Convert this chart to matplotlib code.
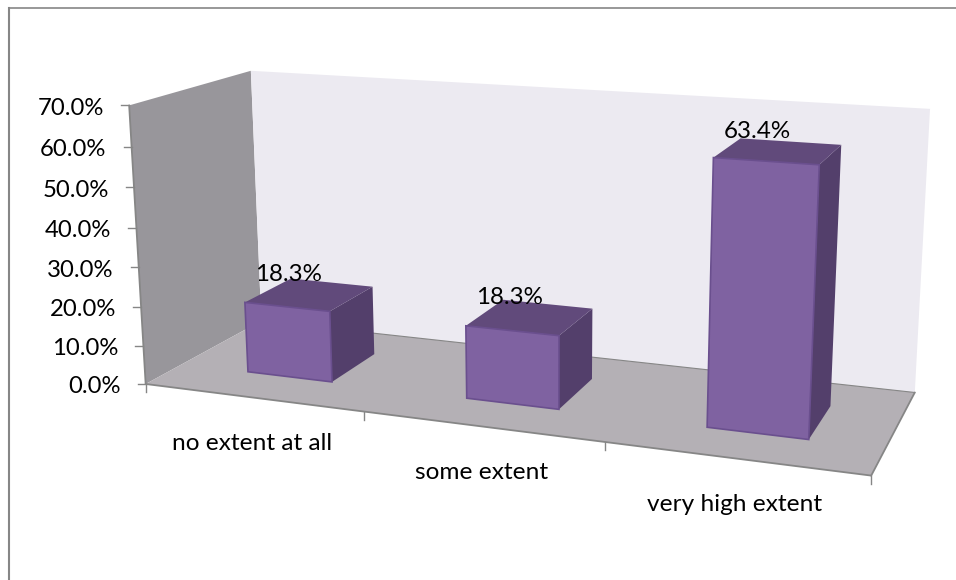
"""
3D style column chart, drawn on a flat axes through a small perspective projection
"""

import numpy as np
import matplotlib
matplotlib.use('Agg')
import matplotlib.pyplot as plt
from matplotlib.patches import Polygon

categories = ['no extent at all', 'some extent', 'very high extent']
values = [18.3, 18.3, 63.4]
value_labels = ['18.3%', '18.3%', '63.4%']
y_ticks = [0, 10, 20, 30, 40, 50, 60, 70]
y_tick_labels = ['0.0%', '10.0%', '20.0%', '30.0%', '40.0%', '50.0%', '60.0%', '70.0%']

plt.rcParams['font.family'] = ['Lato', 'DejaVu Sans']

# corners of the chart box: (across, depth, value) -> pixel
box_points = [
    ((0, 0, 0), (146, 384)),
    ((1, 0, 0), (871, 476)),
    ((0, 1, 0), (261, 321)),
    ((1, 1, 0), (915, 392)),
    ((0, 0, 70), (129, 105)),
    ((0, 1, 70), (251, 71)),
    ((1, 1, 70), (930, 109)),
]


# Fit a 3x4 camera matrix so the bars share the box's perspective
def fit_camera(points):
    rows = []
    for (a, d, v), (px, py) in points:
        rows.append([a, d, v, 1, 0, 0, 0, 0, -px * a, -px * d, -px * v, -px])
        rows.append([0, 0, 0, 0, a, d, v, 1, -py * a, -py * d, -py * v, -py])
    _, _, vt = np.linalg.svd(np.array(rows, dtype=float))
    return vt[-1].reshape(3, 4)


camera = fit_camera(box_points)


def project(a, d, v):
    p = camera @ np.array([a, d, v, 1.0])
    return p[0] / p[2], p[1] / p[2]


fig = plt.figure(figsize=(9.56, 5.8), dpi=100)
ax = fig.add_axes([0, 0, 1, 1])
ax.set_xlim(0, 956)
ax.set_ylim(580, 0)
ax.axis('off')

# Outer chart frame, only left and top are in view
ax.plot([9.5, 9.5], [580, 8], color='#868686', lw=1.5)
ax.plot([9.5, 956], [8, 8], color='#868686', lw=1.2)


def face(corners, color, edge=None, lw=0.0, z=1):
    ax.add_patch(Polygon([project(*c) for c in corners], closed=True, facecolor=color,
                         edgecolor=edge if edge else color, lw=lw, zorder=z))


# Walls and floor
face([(0, 0, 0), (0, 0, 70), (0, 1, 70), (0, 1, 0)], '#98969B', z=1)
face([(0, 1, 0), (0, 1, 70), (1, 1, 70), (1, 1, 0)], '#ECEAF1', z=1)
face([(0, 0, 0), (1, 0, 0), (1, 1, 0), (0, 1, 0)], '#B4B0B5', z=2)

# Axis lines
axis_color = '#868686'
for start, end in [((0, 0, 0), (0, 0, 70)), ((0, 0, 0), (1, 0, 0)), ((1, 0, 0), (1, 1, 0))]:
    p0, p1 = project(*start), project(*end)
    ax.plot([p0[0], p1[0]], [p0[1], p1[1]], color=axis_color, lw=1.3, zorder=3,
            solid_capstyle='round')
p0, p1 = project(0, 1, 0), project(1, 1, 0)
ax.plot([p0[0], p1[0]], [p0[1], p1[1]], color=axis_color, lw=0.8, zorder=3)

# Value axis ticks and labels
for tick, label in zip(y_ticks, y_tick_labels):
    x, y = project(0, 0, tick)
    ax.plot([x - 8, x], [y, y], color=axis_color, lw=1.0, zorder=3)
    ax.text(x - 25, y + 3, label, ha='right', va='center', fontsize=17.2, color='black', zorder=6)

# Category axis ticks and labels
n = len(categories)
for i in range(n + 1):
    x, y = project(i / n, 0, 0)
    ax.plot([x, x], [y, y + 8], color=axis_color, lw=1.0, zorder=3)

bar_width = 0.395
bar_shift = 0.015
depth_front = 0.295
depth_back = 0.71

purple_front = '#7F62A1'
purple_top = '#614A7B'
purple_side = '#533F6B'
purple_edge = '#6A4F8E'

for i, (name, val, text) in enumerate(zip(categories, values, value_labels)):
    mid = (i + 0.5 + bar_shift) / n
    a0 = (i + 0.5 + bar_shift - bar_width / 2) / n
    a1 = (i + 0.5 + bar_shift + bar_width / 2) / n
    d0, d1 = depth_front, depth_back

    face([(a1, d0, 0), (a1, d0, val), (a1, d1, val), (a1, d1, 0)], purple_side, z=4)
    face([(a0, d0, val), (a1, d0, val), (a1, d1, val), (a0, d1, val)], purple_top, z=4)
    face([(a0, d0, 0), (a1, d0, 0), (a1, d0, val), (a0, d0, val)], purple_front, purple_edge, 1.2, z=5)

    cx, cy = project(mid, (d0 + d1) / 2, val)
    ax.text(cx - 21, cy - 20, text, ha='center', va='center', fontsize=17.4, color='black', zorder=6)

    lx, ly = project((i + 0.5) / n, 0, 0)
    ax.text(lx, ly + 46, name, ha='center', va='center', fontsize=17.6, color='black', zorder=6)

fig.savefig('out.png', dpi=100)
